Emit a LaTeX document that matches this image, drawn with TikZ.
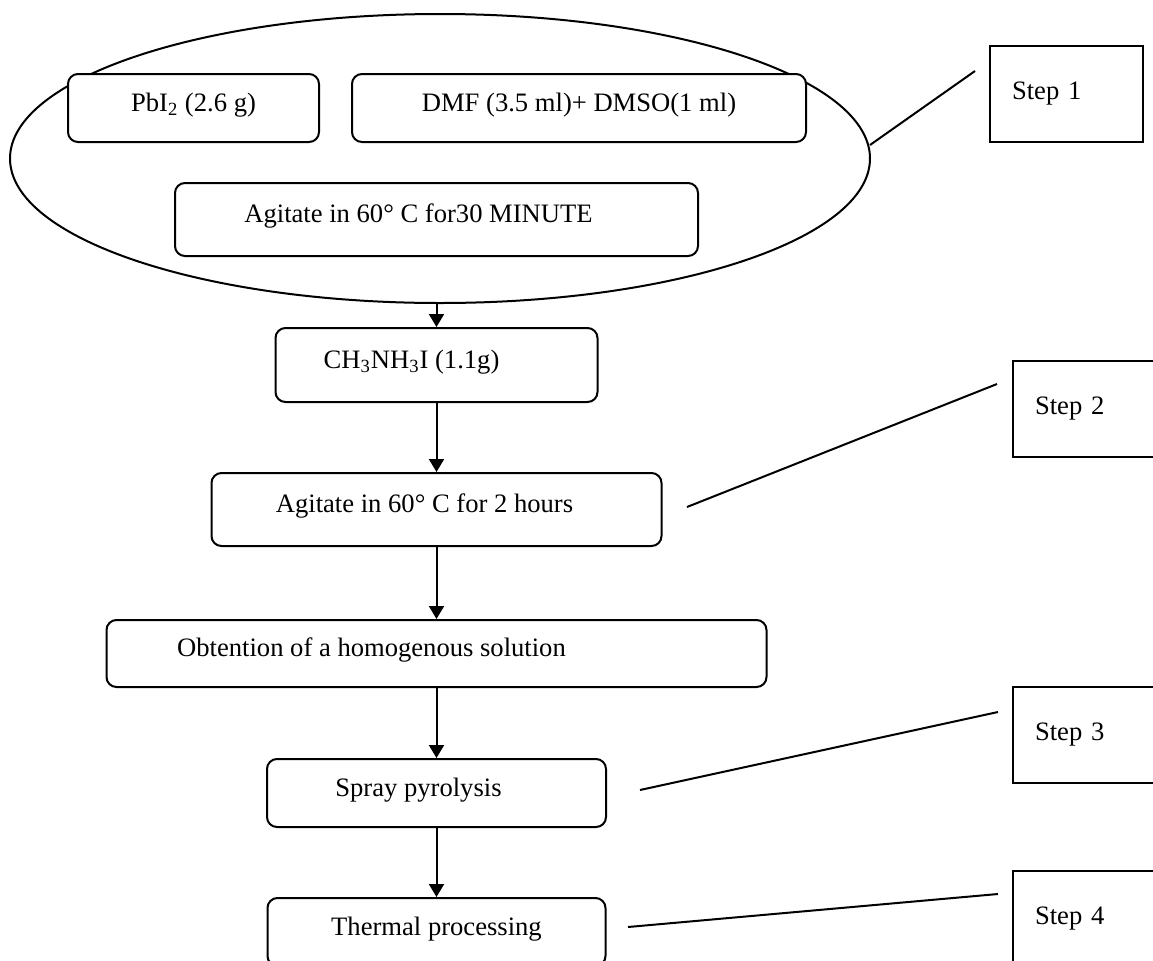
\documentclass[tikz,border=0pt]{standalone}
\usepackage{fontspec}
\setmainfont{Liberation Serif}
\usetikzlibrary{shapes.geometric,arrows.meta}
\tikzset{
    every node/.style={font=\fontsize{13.3pt}{15pt}\selectfont},
    flowbox/.style={draw, line width=1pt, rounded corners=5pt, fill=white, inner sep=0pt, text height=9pt, text depth=6pt},
    stepbox/.style={draw, line width=1pt, fill=white, minimum height=48pt, inner xsep=11pt, text width=54.5pt, align=left},
    flowarrow/.style={line width=1pt, -{Triangle[width=7.5pt,length=6.5pt]}},
    steplink/.style={line width=1pt}
}
\begin{document}
\begin{tikzpicture}[x=0.5pt,y=-0.5pt]
    \useasboundingbox (0,0) rectangle (1153,960);
    %\node[] at (0,2) {};
    \node[draw, ellipse, line width=1pt, minimum width=430pt, minimum height=144.5pt, inner sep=0pt] (mix) at (440,158.5) {};
    \node[flowbox, minimum width=125.5pt, minimum height=34pt] (pbi) at (193.5,108) {PbI\textsubscript{2} (2.6 g)};
    \node[flowbox, minimum width=227pt, minimum height=34pt] (dmf) at (579,108) {DMF (3.5 ml)+ DMSO(1 ml)};
    \node[flowbox, minimum width=261.5pt, minimum height=36.5pt] (agit1) at (436.5,219.5) {Agitate in 60° C for30 MINUTE\hspace*{18pt}};
    \node[flowbox, minimum width=161pt, minimum height=37pt] (ch) at (436.5,365) {CH\textsubscript{3}NH\textsubscript{3}I (1.1g)\hspace*{25pt}};
    \node[flowbox, minimum width=225pt, minimum height=36.5pt] (agit2) at (436.5,509.5) {Agitate in 60° C for 2 hours\hspace*{12pt}};
    \node[flowbox, minimum width=330pt, minimum height=33.5pt] (obt) at (436.5,653.5) {Obtention of a homogenous solution\hspace*{65pt}};
    \node[flowbox, minimum width=169.5pt, minimum height=34pt] (spray) at (436.5,793) {Spray pyrolysis\hspace*{18pt}};
    \node[flowbox, minimum width=169pt, minimum height=34pt] (therm) at (436.5,932) {Thermal processing};

    \node[stepbox] (s1) at (1066.5,94) {Step 1};
    \node[stepbox] (s2) at (1089.5,409) {Step 2};
    \node[stepbox] (s3) at (1089.5,735) {Step 3};
    \node[stepbox] (s4) at (1089.5,919) {Step 4};

    \draw[flowarrow] (ch.north |- mix.south) -- (ch.north);
    \draw[flowarrow] (ch.south) -- (agit2.north);
    \draw[flowarrow] (agit2.south) -- (obt.north);
    \draw[flowarrow] (obt.south) -- (spray.north);
    \draw[flowarrow] (spray.south) -- (therm.north);

    \coordinate (l1a) at (870,145);
    \coordinate (l1b) at (975,71);
    \coordinate (l2a) at (687,507);
    \coordinate (l2b) at (997,384);
    \coordinate (l3a) at (640,790);
    \coordinate (l3b) at (998,712);
    \coordinate (l4a) at (628,927);
    \coordinate (l4b) at (998,894);
    \draw[steplink] (l1a) -- (l1b);
    \draw[steplink] (l2a) -- (l2b);
    \draw[steplink] (l3a) -- (l3b);
    \draw[steplink] (l4a) -- (l4b);

\end{tikzpicture}
\end{document}
